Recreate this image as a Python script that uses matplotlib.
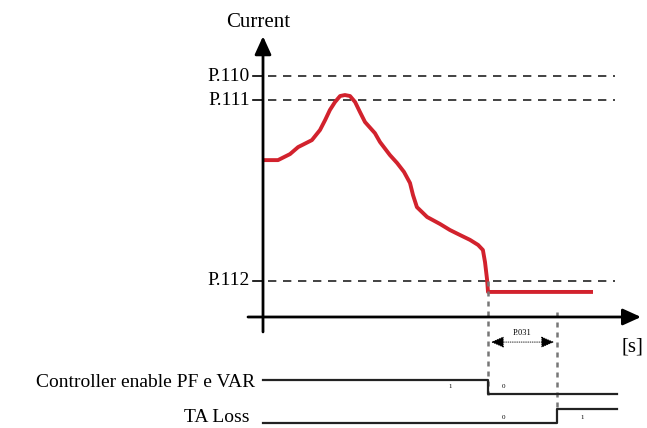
import matplotlib
matplotlib.use("Agg")
import matplotlib.pyplot as plt
import numpy as np

# ---------------- data ----------------
# current waveform (time in s, current in arbitrary units)
t_curr = [0.0, 0.5, 0.9, 1.17, 1.63, 1.9, 2.07, 2.23, 2.4, 2.57, 2.73, 2.9,
          3.07, 3.23, 3.4, 3.73, 3.9, 4.23, 4.47, 4.7, 4.9, 5.0, 5.13, 5.47,
          5.9, 6.23, 6.57, 6.9, 7.17, 7.33, 7.4, 7.47, 7.5, 7.9, 11.0]
i_curr = [65.1, 65.1, 67.6, 70.5, 73.4, 77.6, 81.7, 85.9, 89.2, 91.7, 92.1, 91.7,
          89.2, 85.1, 80.9, 76.3, 72.6, 67.2, 63.9, 60.2, 55.6, 50.6, 45.6, 41.5,
          38.6, 36.1, 34.0, 32.0, 29.9, 27.8, 22.8, 15.4, 10.4, 10.4, 10.4]

level_names = ["P.110", "P.111", "P.112"]
level_values = [100, 90, 15]

t_trip = 7.5      # current drops below P.112
t_p031 = 9.8      # end of P.031 delay
t_end = 11.8

# logic signals (time, state)
ctrl_t = [0.0, t_trip, t_trip, t_end]
ctrl_s = [1, 1, 0, 0]
ta_t = [0.0, t_p031, t_p031, t_end]
ta_s = [0, 0, 1, 1]

# ---------------- figure ----------------
plt.rcParams['font.family'] = ['Liberation Serif', 'DejaVu Serif']
fig = plt.figure(figsize=(6.47, 4.28), dpi=100)
ax = fig.add_axes([0, 0, 1, 1])
ax.set_xlim(-8.767, 12.8)
ax.set_ylim(-46.06, 131.54)
ax.axis('off')

FS = 15

# axes arrows
ax.annotate('', xy=(0, 116.5), xytext=(0, -6.2),
            arrowprops=dict(arrowstyle='-|>,head_length=1.1,head_width=0.5',
                            lw=2.0, color='black', shrinkA=0, shrinkB=0))
ax.annotate('', xy=(12.6, 0), xytext=(-0.5, 0),
            arrowprops=dict(arrowstyle='-|>,head_length=1.1,head_width=0.5',
                            lw=2.0, color='black', shrinkA=0, shrinkB=0))
ax.text(-0.17, 122.4, "Current", ha='center', va='center', fontsize=FS)
ax.text(12.33, -12.4, "[s]", ha='center', va='center', fontsize=FS)

# threshold levels
for name, val in zip(level_names, level_values):
    ax.plot([0.17, 11.73], [val, val], color='#222222', lw=1.2,
            dashes=(5, 4))
    ax.plot([-0.35, 0], [val, val], color='black', lw=1.2)
    ax.text(-0.43, val, name, ha='right', va='center', fontsize=FS - 1)

# current curve
ax.plot(t_curr, i_curr, color='#d2222d', lw=2.8, solid_joinstyle='round',
        solid_capstyle='butt')

# event verticals
ax.plot([t_trip, t_trip], [level_values[2], -32.2], color='#777777', lw=1.8,
        dashes=(2, 2))
ax.plot([t_p031, t_p031], [2.0, -38.6], color='#777777', lw=1.8,
        dashes=(2, 2))

# P.031 interval
ax.annotate('', xy=(t_trip + 0.1, -10.4), xytext=(t_p031 - 0.1, -10.4),
            arrowprops=dict(arrowstyle='<|-|>,head_length=0.8,head_width=0.35',
                            lw=0.6, color='black', linestyle=':',
                            shrinkA=0, shrinkB=0))
ax.text((t_trip + t_p031) / 2, -6.6, "P.031", ha='center', va='center',
        fontsize=6)

# logic signals
ctrl_base, ta_base, amp = -32.0, -44.0, 5.9
ax.plot(ctrl_t, [ctrl_base + s * amp for s in ctrl_s], color='#222222', lw=1.6)
ax.plot(ta_t, [ta_base + s * amp for s in ta_s], color='#222222', lw=1.6)
ax.text(-0.25, -27.0, "Controller enable PF e VAR", ha='right', va='center',
        fontsize=FS - 1)
ax.text(-0.45, -41.8, "TA Loss", ha='right', va='center', fontsize=FS - 1)

# state labels
ax.text(6.23, -29.0, "1", ha='center', va='center', fontsize=5)
ax.text(8.0, -29.0, "0", ha='center', va='center', fontsize=5)
ax.text(8.0, -41.5, "0", ha='center', va='center', fontsize=5)
ax.text(10.63, -41.5, "1", ha='center', va='center', fontsize=5)

fig.savefig("out.png", dpi=100)
